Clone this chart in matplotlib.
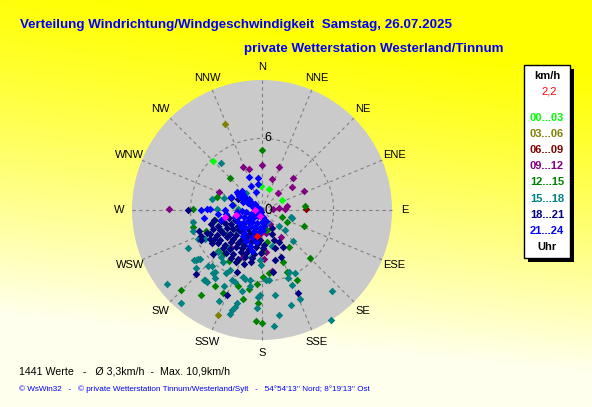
import numpy as np
import matplotlib
matplotlib.use('Agg')
import matplotlib.pyplot as plt
from matplotlib.patches import Circle, Rectangle

plt.rcParams['font.family'] = ['Liberation Sans', 'DejaVu Sans']

# wind vectors: (east, north) in km/h, grouped by hour
pts_00_03 = [(-4.1, 4.1), (-0.1, 2.0), (0.6, 1.8), (1.7, 0.8)]
pts_03_06 = [(-3.1, 7.2), (-3.7, -8.8)]
pts_06_09 = [(3.7, 0.1)]
pts_09_12 = [(-7.8, 0.1), (-1.6, 3.6), (-1.1, 3.4), (0.0, 3.8), (1.4, 3.6), (0.8, 2.6),
             (2.6, 2.7), (2.5, 1.9), (3.5, 1.6), (1.3, 1.4), (2.1, 0.3), (1.9, 0.1),
             (1.4, 0.2), (0.9, 0.1), (0.7, -1.2), (1.6, -2.3), (0.3, -3.5), (0.8, -5.1),
             (-2.7, -3.2), (-1.8, -1.2), (0.2, -4.1), (-1.0, -2.4), (0.3, -1.9), (-3.6, 1.5),
             (-0.2, 0.0), (-2.7, -3.1), (-1.6, -3.9), (-0.2, -2.0)]
pts_12_15 = [(0.0, 5.0), (-2.7, 2.7), (-3.8, 1.1), (-2.4, 0.4), (-5.8, 0.1), (-5.8, -1.4),
             (-3.9, -0.8), (3.6, 0.3), (3.5, -1.3), (1.7, -0.6), (2.1, -1.0), (4.0, -4.0),
             (2.9, -5.9), (-6.8, -6.7), (-5.1, -7.1), (0.0, -9.5), (-0.5, -9.3), (-1.6, -7.5),
             (-2.0, -6.4), (-3.9, -6.4), (-3.3, -7.0), (1.8, -4.4), (2.1, -5.2), (-3.7, -3.4),
             (-3.2, -3.6), (-2.0, -4.2), (0.1, -5.6), (-1.1, -6.6), (0.4, -2.7), (-0.6, -2.5),
             (-1.8, -2.7), (2.3, -3.1), (-0.4, -6.2), (-0.3, -7.8), (-0.3, -2.4), (0.6, -5.3),
             (-4.7, -1.8), (-1.6, -2.5), (0.0, -3.5), (-2.8, -4.3), (0.4, -1.7)]
pts_15_18 = [(-3.4, 3.9), (-4.2, 0.9), (-1.3, 1.4), (-3.2, 1.0), (-3.8, 0.1), (-2.0, 0.1),
             (2.4, -0.6), (-5.8, -1.0), (-5.8, -1.8), (-6.2, -3.2), (-5.4, -2.4), (-4.8, -2.4),
             (-8.0, -6.2), (-6.8, -7.8), (-4.8, -5.9), (-3.2, -6.4), (-3.6, -7.6), (-2.7, -8.7),
             (-2.5, -8.4), (-2.3, -8.1), (-2.1, -7.8), (-1.7, -6.8), (-2.3, -6.0), (-1.0, -5.9),
             (-1.4, -5.8), (-0.3, -7.3), (-5.5, -4.9), (-4.5, -4.7), (-4.2, -4.7), (-3.9, -5.2),
             (-3.3, -4.4), (-2.7, -5.0), (-3.0, -5.3), (-2.5, -5.9), (-1.6, -5.6), (-4.9, -5.9),
             (-4.6, -6.0), (-3.9, -5.7), (-5.4, -4.1), (-5.2, -4.1), (-2.8, -3.2), (-3.7, -3.5),
             (-3.4, -3.9), (-1.0, -6.4), (2.5, -0.7), (1.4, -1.3), (1.9, -1.7), (2.6, -2.6),
             (0.8, -3.0), (-0.1, -4.6), (2.3, -5.2), (2.8, -5.3), (2.5, -6.3), (3.2, -7.5),
             (1.1, -7.1), (2.4, -8.0), (1.4, -8.8), (1.0, -9.7), (5.9, -6.8), (5.8, -9.2),
             (0.6, -5.9), (0.3, -5.9), (-0.2, -7.1), (2.2, -5.7), (-0.4, -8.2), (-0.2, -4.2),
             (-5.5, -4.2), (-5.7, -4.2), (-4.1, -5.3), (-3.4, -1.7), (-2.9, -2.0), (-2.3, -1.6),
             (-1.1, -3.1), (-0.9, -3.9), (0.4, -1.0)]
pts_18_21 = [(-6.2, 0.0), (-5.1, -2.2), (-4.4, -2.4), (-4.2, -2.8), (-5.5, -5.4), (-2.1, -5.2),
             (-2.9, -7.1), (1.1, -4.2), (3.0, -7.0), (0.9, -5.2), (1.1, -3.2), (-4.1, -3.7),
             (-5.3, -1.8), (-5.1, -2.5), (-4.6, -1.9), (0.8, -2.0), (1.0, -2.5), (1.4, -2.7),
             (1.8, -3.1), (1.6, -3.9), (0.8, -1.5), (-2.0, 0.9), (-2.6, 1.0),
             (-4.0, -0.8), (-3.4, -0.9), (-2.8, -0.7), (-2.3, -0.8),
             (-4.3, -1.2), (-3.7, -1.3), (-3.1, -1.1), (-2.6, -1.2), (-2.0, -1.3), (-1.5, -1.1),
             (-4.1, -1.6), (-3.5, -1.7), (-2.9, -1.5), (-2.4, -1.6), (-1.9, -1.7), (-1.2, -1.6), (-0.6, -1.5),
             (-4.4, -2.0), (-3.8, -2.1), (-3.3, -1.9), (-2.7, -2.0), (-2.2, -2.1), (-1.6, -1.9), (-1.0, -2.0), (-0.4, -2.1),
             (-4.0, -2.4), (-3.5, -2.5), (-2.9, -2.3), (-2.4, -2.4), (-1.8, -2.5), (-1.3, -2.3), (-0.7, -2.4), (-0.2, -2.5),
             (-3.7, -2.8), (-3.1, -2.9), (-2.6, -2.7), (-2.0, -2.8), (-1.5, -2.9), (-0.9, -2.7), (-0.3, -2.8), (0.2, -2.9),
             (-3.3, -3.2), (-2.7, -3.3), (-2.2, -3.1), (-1.7, -3.2), (-1.1, -3.3), (-0.5, -3.1), (0.1, -3.2),
             (-3.0, -3.6), (-2.4, -3.7), (-1.8, -3.5), (-1.3, -3.6), (-0.7, -3.7), (-0.1, -3.6),
             (-2.6, -4.0), (-2.0, -4.1), (-1.4, -3.9), (-0.8, -4.0),
             (-2.2, -4.4), (-1.5, -4.5), (-0.9, -4.4)]
pts_21_24 = [(-1.8, 1.4), (-1.6, 1.3), (-1.5, 1.1), (-1.3, 1.0), (-1.1, 0.9), (-1.0, 0.7),
             (-0.8, 0.6), (-0.6, 0.5), (-0.5, 0.3), (-0.3, 0.2), (-0.2, 0.1), (-1.9, 1.2),
             (-1.7, 1.0), (-1.4, 0.8), (-1.2, 0.6), (-0.9, 0.4), (-0.7, 0.2), (-0.4, 0.0),
             (-2.0, 1.3), (-1.6, 0.7), (-1.7, 1.6), (-2.1, 1.5),
             (-1.1, 2.8), (-0.3, 2.7), (-0.9, 2.0), (-2.6, 1.1), (-5.1, 0.0), (-4.4, 0.1),
             (-4.9, -0.7), (-3.7, -0.3), (-4.6, 0.1), (-3.1, 0.0), (-3.4, -0.8), (-3.0, -0.3),
             (-2.5, 0.4), (-0.3, 2.2), (-0.5, 1.5),
             (-2.1, -0.2), (-1.7, -0.1), (-1.3, -0.2), (-0.9, -0.3), (-0.5, -0.2), (-0.1, -0.2),
             (-2.3, -0.6), (-1.9, -0.5), (-1.5, -0.6), (-1.1, -0.7), (-0.7, -0.6), (-0.3, -0.5), (0.1, -0.6),
             (-2.0, -1.0), (-1.6, -1.1), (-1.2, -0.9), (-0.8, -1.0), (-0.4, -1.1), (0.0, -1.0), (0.3, -0.9),
             (-1.8, -1.4), (-1.4, -1.5), (-1.0, -1.3), (-0.6, -1.4), (-0.2, -1.5), (0.2, -1.3),
             (-1.5, -1.9), (-0.7, -1.8), (-0.3, -1.9), (0.1, -1.7),
             (-1.6, -2.2), (-0.8, -2.3), (-0.4, -2.2),
             (-1.3, -2.6), (-0.5, -2.7),
             (-1.0, -3.0), (-0.8, -3.4)]
pts_extra = [(-3.1, -0.6), (-2.2, -0.4), (-0.6, 0.0), (-0.2, -0.5)]
pts_last = [(-0.4, -2.15)]

hour_labels = ['00...03', '03...06', '06...09', '09...12', '12...15', '15...18', '18...21', '21...24']
hour_colors = ['#00FF00', '#808000', '#800000', '#800080', '#008000', '#008080', '#000080', '#0000FF']
groups = [pts_00_03, pts_03_06, pts_06_09, pts_09_12, pts_12_15, pts_15_18, pts_18_21, pts_21_24]

directions = ['N', 'NNE', 'NE', 'ENE', 'E', 'ESE', 'SE', 'SSE',
              'S', 'SSW', 'SW', 'WSW', 'W', 'WNW', 'NW', 'NNW']
r_max = 10.9
ring = 6
last_speed = '2,2'

W, H = 592, 407
fig = plt.figure(figsize=(W / 100, H / 100), dpi=100)


def fx(x):
    return x / W


def fy(y):
    return 1 - y / H


# background gradient
bg = fig.add_axes([0, 0, 1, 1])
bg.axis('off')
yy = np.linspace(0, 1, H)[:, None]
xx = np.linspace(0, 1, W)[None, :]
blue = np.clip(1.2 * yy ** 1.2 - 0.2 * xx + 0.05, 0, 0.93)
bg.imshow(np.dstack([np.ones_like(blue), np.ones_like(blue), blue]),
          aspect='auto', extent=[0, 1, 0, 1])

# polar diagram drawn on a cartesian axes
half = 13.5
scale = 130 / r_max
ax = fig.add_axes([fx(262 - half * scale), fy(210 + half * scale),
                   2 * half * scale / W, 2 * half * scale / H])
ax.set_xlim(-half, half)
ax.set_ylim(-half, half)
ax.axis('off')

ax.add_patch(Circle((0, 0), r_max, facecolor='#CACACA', edgecolor='none', zorder=1))
dash = (0, (3, 3))
ax.add_patch(Circle((0, 0), ring, facecolor='none', edgecolor='#808080',
                    lw=0.8, ls=dash, zorder=2))
for i, name in enumerate(directions):
    a = np.deg2rad(i * 22.5)
    ax.plot([0, r_max * np.sin(a)], [0, r_max * np.cos(a)], color='#808080',
            lw=0.8, ls=dash, zorder=2)
    ax.text(12.0 * np.sin(a), 12.0 * np.cos(a), name, ha='center', va='center',
            fontsize=8, color='black')

ax.text(0.5, ring, str(ring), ha='center', va='center', fontsize=9, zorder=3)

msize = 15
for pts, col in zip(groups, hour_colors):
    arr = np.array(pts)
    ax.scatter(arr[:, 0], arr[:, 1], marker='D', s=msize, color=col, lw=0, zorder=4)
arr = np.array(pts_extra)
ax.scatter(arr[:, 0], arr[:, 1], marker='D', s=msize, color='#FF00FF', lw=0, zorder=5)
arr = np.array(pts_last)
ax.scatter(arr[:, 0], arr[:, 1], marker='D', s=msize, color='#FF0000', lw=0, zorder=6)

ax.text(0.5, 0, '0', ha='center', va='center', fontsize=10, zorder=7)

# titles
fig.text(fx(20), fy(25), 'Verteilung Windrichtung/Windgeschwindigkeit  Samstag, 26.07.2025',
         color='#0000FF', fontsize=9.6, fontweight='bold', va='center')
fig.text(fx(244), fy(49), 'private Wetterstation Westerland/Tinnum',
         color='#0000FF', fontsize=9.6, fontweight='bold', va='center')

# legend box
fig.patches.append(Rectangle((fx(528), fy(262)), 46 / W, 193 / H, transform=fig.transFigure,
                             facecolor='black', edgecolor='none'))
fig.patches.append(Rectangle((fx(524), fy(258)), 46 / W, 193 / H, transform=fig.transFigure,
                             facecolor='white', edgecolor='black', lw=1))
fig.text(fx(547), fy(76), 'km/h', ha='center', va='center', fontsize=8, fontweight='bold')
fig.text(fx(549), fy(92), last_speed, ha='center', va='center', fontsize=8, color='#FF0000')
for k, (lab, col) in enumerate(zip(hour_labels, hour_colors)):
    fig.text(fx(547), fy(118 + k * 16.1), lab, ha='center', va='center', fontsize=8,
             fontweight='bold', color=col)
fig.text(fx(547), fy(247), 'Uhr', ha='center', va='center', fontsize=8, fontweight='bold')

# footer
fig.text(fx(19), fy(371), '1441 Werte   -   Ø 3,3km/h  -  Max. 10,9km/h',
         fontsize=7.7, va='center')
fig.text(fx(19), fy(389), "© WsWin32   -   © private Wetterstation Tinnum/Westerland/Sylt   -   "
         "54°54'13'' Nord; 8°19'13'' Ost", fontsize=5.9, color='#0000FF', va='center')

fig.savefig('out.png', dpi=100)
